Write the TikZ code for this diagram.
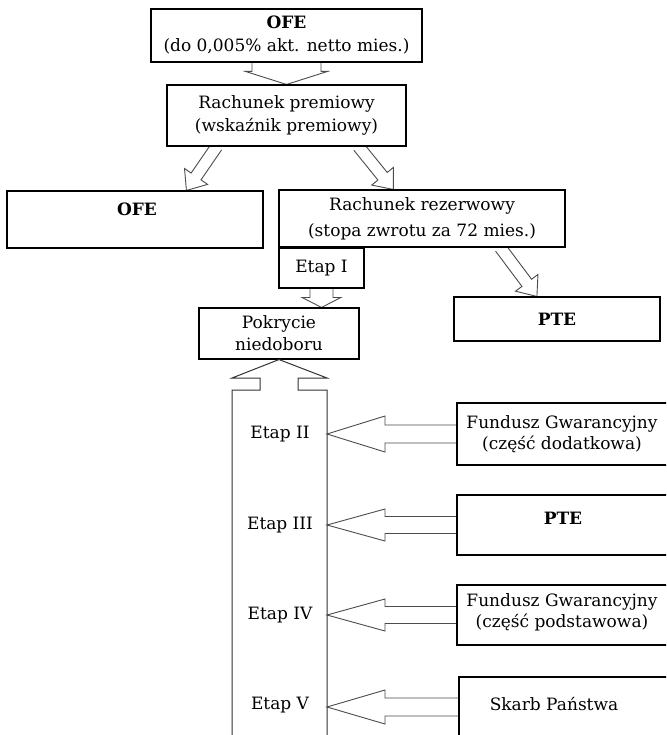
\documentclass[tikz,border=0pt]{standalone}
\usepackage{fontspec}
\setmainfont{DejaVu Serif}
\usetikzlibrary{calc,backgrounds}
\newcommand{\txtfont}{\fontsize{17}{23}\selectfont}
\newcommand{\blockarr}[5]{%
  \path ($(#2)!#5!(#1)$) coordinate (hb);
  \draw[arr] ($(#1)!#3!90:(#2)$) -- ($(hb)!#3!-90:(#1)$) -- ($(hb)!#4!-90:(#1)$) -- (#2)
    -- ($(hb)!#4!90:(#1)$) -- ($(hb)!#3!90:(#1)$) -- ($(#1)!#3!-90:(#2)$);}
\begin{document}
\begin{tikzpicture}[x=1pt,y=-1pt,
  box/.style={draw=black, line width=1.1pt, fill=white, inner sep=0pt, align=center, font=\txtfont},
  lbl/.style={inner sep=0pt, align=center, font=\txtfont},
  arr/.style={draw=black!70, line width=0.9pt, line join=miter},
  colline/.style={draw=black!80, line width=1pt, line join=miter}]
\useasboundingbox (0,0) rectangle (666,735);
\begin{scope}
\clip (0,0) rectangle (666,735);
% boxes
\node[box, minimum width=271pt, minimum height=53pt] (ofe1) at (286.5,35.5) {\textbf{OFE}\\(do 0,005\% akt. netto mies.)};
\node[box, minimum width=239pt, minimum height=61pt] (prem) at (286.5,115.5) {Rachunek premiowy\\(wskaźnik premiowy)};
\node[box, minimum width=256pt, minimum height=57pt] (ofe2) at (135,219.5) {};
\node[lbl] (ofe2t) at (137,209) {\textbf{OFE}};
\node[box, minimum width=286pt, minimum height=57pt] (rez) at (422,218.5) {Rachunek rezerwowy\\[3pt](stopa zwrotu za 72 mies.)};
\node[box, minimum width=85pt, minimum height=40pt] (etap1) at (321.5,268) {Etap I};
\node[box, minimum width=206pt, minimum height=44pt] (pte1) at (557,319) {\textbf{PTE}};
\node[box, minimum width=160pt, minimum height=51pt, font=\fontsize{17}{22}\selectfont] (pok) at (279,333.5) {Pokrycie\\niedoboru};
\node[box, minimum width=243pt, minimum height=62pt] (fgd) at (578.5,434) {};
\node[lbl, font=\fontsize{17}{21}\selectfont] (fgdt) at (562,434) {Fundusz Gwarancyjny\\(część dodatkowa)};
\node[box, minimum width=243pt, minimum height=60pt] (pte2) at (578.5,525) {};
\node[lbl] (pte2t) at (563,518) {\textbf{PTE}};
\node[box, minimum width=243pt, minimum height=60pt] (fgp) at (578.5,615) {};
\node[lbl, font=\fontsize{17}{21}\selectfont] (fgpt) at (562,612) {Fundusz Gwarancyjny\\(część podstawowa)};
\node[box, minimum width=241pt, minimum height=83pt] (skarb) at (579.5,718.5) {};
\node[lbl] (skarbt) at (554,704) {Skarb Państwa};
% column with upward arrow
\draw[colline] (232,742) -- (232,390) -- (260,390) -- (260,378) -- (232,378) -- (pok.south)
  -- (327,378) -- (298,378) -- (298,390) -- (327,390) -- (327,742);
\coordinate (colR) at (327,390);
\node[lbl] (e2) at (280,434) {Etap II};
\node[lbl] (e3) at (280,525) {Etap III};
\node[lbl] (e4) at (280,615) {Etap IV};
\node[lbl] (e5) at (280,705) {Etap V};
% connectors
\coordinate (a1s) at ($(prem.south west)!0.209!(prem.south east)$);
\coordinate (a1e) at ($(ofe2.north west)!0.70!(ofe2.north east)$);
\coordinate (a2s) at ($(prem.south west)!0.80!(prem.south east)$);
\coordinate (a2e) at ($(rez.north west)!0.40!(rez.north east)$);
\coordinate (a3s) at ($(rez.south west)!0.773!(rez.south east)$);
\coordinate (a3e) at ($(pte1.north west)!0.403!(pte1.north east)$);
\coordinate (a5e) at (etap1.south |- pok.north);
\coordinate (t2) at (colR |- fgd.west);
\coordinate (t3) at (colR |- pte2.west);
\coordinate (t4) at (colR |- fgp.west);
\coordinate (t5) at (colR |- skarb.west);
\coordinate (s5) at (skarb.west |- 0,707);
\coordinate (t5) at (colR |- s5);
\begin{pgfonlayer}{background}
\fill[white] (0,0) rectangle (666,735);
\blockarr{ofe1.south}{prem.north}{34.5pt}{41pt}{13pt}
\blockarr{a1s}{a1e}{6pt}{14pt}{17pt}
\blockarr{a2s}{a2e}{6pt}{14pt}{17pt}
\blockarr{a3s}{a3e}{6pt}{14pt}{17pt}
\blockarr{etap1.south}{a5e}{11.5pt}{19.5pt}{10pt}
\blockarr{fgd.west}{t2}{9pt}{18pt}{58pt}
\blockarr{pte2.west}{t3}{8.5pt}{16pt}{58pt}
\blockarr{fgp.west}{t4}{8.5pt}{16pt}{58pt}
\blockarr{s5}{t5}{9pt}{17pt}{58pt}
\end{pgfonlayer}
\end{scope}
\end{tikzpicture}
\end{document}
